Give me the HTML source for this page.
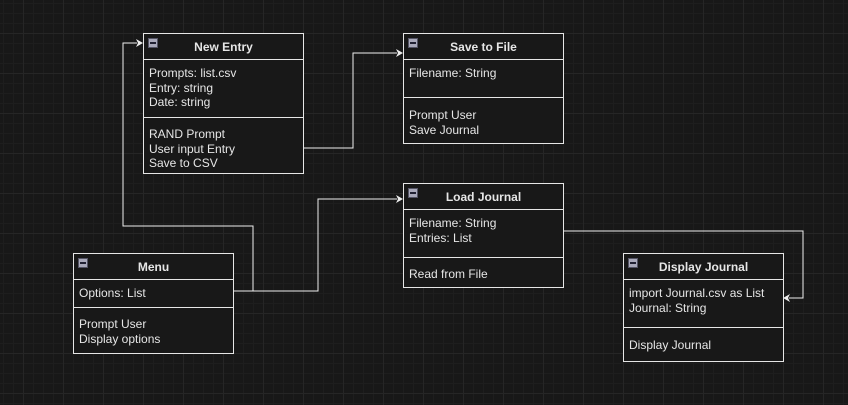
<!DOCTYPE html>
<html><head><style>
body{margin:0;width:848px;height:405px;overflow:hidden;background:#181818;
background-image:linear-gradient(#262626 1px,transparent 1px),linear-gradient(90deg,#262626 1px,transparent 1px),linear-gradient(#1e1e1e 1px,transparent 1px),linear-gradient(90deg,#1e1e1e 1px,transparent 1px);
background-size:40px 40px,40px 40px,10px 10px,10px 10px;background-position:0 33px,23px 0,0 3px,3px 0;
font-family:"Liberation Sans",sans-serif;font-size:12px;color:#e6e6e6}
.b{position:absolute;width:161px;border:1px solid #e6e6e6;background:#181818;box-sizing:border-box}
.h{height:26px;border-bottom:1px solid #e6e6e6;text-align:center;font-weight:bold;line-height:26px;position:relative;box-sizing:border-box}
.h:before{content:"";position:absolute;left:4px;top:4px;width:8px;height:8px;background:#aab;border:1px solid #556}
.h:after{content:"";position:absolute;left:6px;top:8px;width:6px;height:2px;background:#223}
.s{border-bottom:1px solid #e6e6e6;padding:5px 5px;line-height:14.5px;box-sizing:border-box}
.s:last-child{border-bottom:none}
svg{position:absolute;left:0;top:0}
</style></head><body>
<svg width="848" height="405"><g fill="none" stroke="#eee" stroke-width="1">
<polyline points="233,291 253,291 253,226 123,226 123,43 137,43"/>
<polyline points="233,291 318,291 318,199 397,199"/>
<polyline points="303,148 353,148 353,53 397,53"/>
<polyline points="563,231 803,231 803,298 789,298"/></g>
<g fill="#eee"><path d="M143,43l-7,-4l2,4l-2,4z"/><path d="M403,199l-7,-4l2,4l-2,4z"/><path d="M403,53l-7,-4l2,4l-2,4z"/><path d="M783,298l7,-4l-2,4l2,4z"/></g></svg>
<div class="b" style="left:143px;top:33px;height:141px"><div class="h">New Entry</div><div class="s" style="height:58px;padding-top:6px">Prompts: list.csv<br>Entry: string<br>Date: string</div><div class="s" style="padding-top:9px">RAND Prompt<br>User input Entry<br>Save to CSV</div></div>
<div class="b" style="left:403px;top:33px;height:111px"><div class="h">Save to File</div><div class="s" style="height:38px;padding-top:6px">Filename: String</div><div class="s" style="padding-top:10px">Prompt User<br>Save Journal</div></div>
<div class="b" style="left:403px;top:183px;height:105px"><div class="h">Load Journal</div><div class="s" style="height:48px;padding-top:6px">Filename: String<br>Entries: List</div><div class="s" style="padding-top:9px">Read from File</div></div>
<div class="b" style="left:73px;top:253px;height:101px"><div class="h">Menu</div><div class="s" style="height:28px;padding-top:6px">Options: List</div><div class="s" style="padding-top:9px">Prompt User<br>Display options</div></div>
<div class="b" style="left:623px;top:253px;height:109px"><div class="h">Display Journal</div><div class="s" style="height:48px;padding-top:6px">import Journal.csv as List<br>Journal: String</div><div class="s" style="padding-top:10px">Display Journal</div></div>
</body></html>
